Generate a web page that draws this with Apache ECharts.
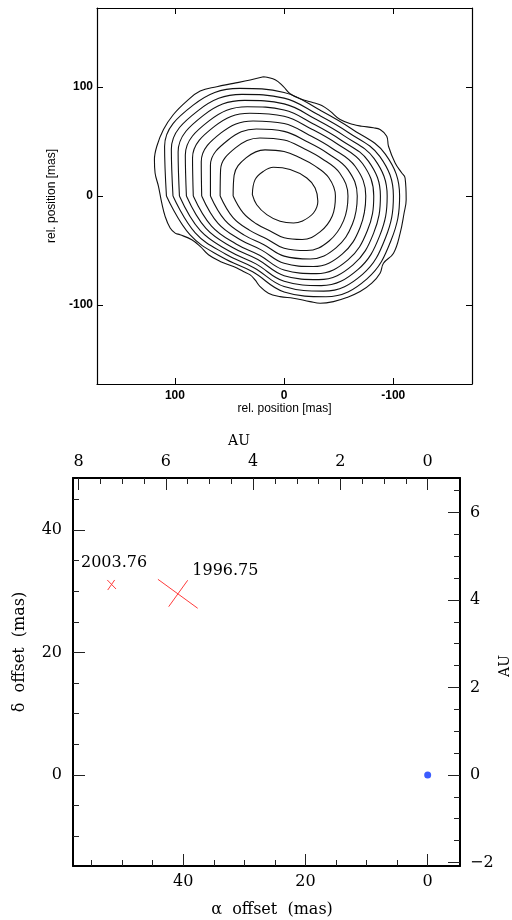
<!DOCTYPE html>
<html><head><meta charset="utf-8">
<script src="https://cdn.jsdelivr.net/npm/echarts@6/dist/echarts.min.js"></script>
<style>html,body{margin:0;padding:0;background:#fff}#c{width:512px;height:920px}</style>
</head><body><div id="c"></div>
<script>
// ---------- top panel: contour levels (rel. position, mas), outermost first ----------
const contour1 = [[18.9,109.3],[8.2,106.6],[0.6,100.2],[-5.5,93.7],[-14.7,89.1],[-26.9,85.5],[-34.5,83.0],[-42.1,77.8],[-51.3,70.1],[-63.5,65.5],[-71.1,64.0],[-81.8,62.5],[-87.9,60.9],[-94.0,54.8],[-95.6,45.6],[-101.7,30.3],[-107.8,21.1],[-110.8,16.5],[-111.8,-3.4],[-109.9,-15.6],[-106.3,-34.0],[-100.2,-52.4],[-91.0,-61.6],[-87.9,-70.8],[-80.3,-79.9],[-69.6,-87.6],[-57.4,-93.1],[-45.2,-96.8],[-33.0,-98.3],[-23.8,-96.8],[-8.5,-93.7],[3.7,-92.2],[14.4,-89.1],[22.0,-83.0],[26.6,-76.9],[31.1,-72.3],[37.3,-69.2],[46.4,-64.6],[58.6,-60.0],[69.3,-53.9],[76.9,-46.2],[84.6,-40.1],[95.3,-35.5],[99.8,-34.0],[104.4,-29.4],[109.0,-18.7],[112.1,-6.4],[115.1,8.9],[118.2,21.1],[118.8,33.4],[116.6,45.6],[110.5,60.9],[101.4,74.7],[89.2,87.0],[76.9,96.2],[61.7,100.2],[46.4,103.2],[31.1,106.3],[18.9,109.3]];
const contour2 = [[107.8,0],[109.5,45.4],[83.3,83.3],[40.9,98.6],[0,94.9],[-32.7,78.8],[-61.7,61.7],[-92.7,38.4],[-105.8,0],[-98.0,-40.6],[-75.9,-75.9],[-38.3,-92.3],[0,-87.9],[28.8,-69.5],[56.4,-56.4],[86.1,-35.7],[107.8,0]];
const contour3 = [[101.8,0],[103.3,42.8],[78.5,78.5],[38.6,93.1],[0,89.7],[-30.9,74.6],[-58.5,58.5],[-87.6,36.3],[-100.1,0],[-92.8,-38.5],[-71.8,-71.8],[-36.2,-87.2],[0,-83.0],[27.3,-65.9],[53.4,-53.4],[81.4,-33.7],[101.8,0]];
const contour4 = [[95.9,0],[97.1,40.3],[73.9,73.9],[36.3,87.6],[0,84.4],[-29.1,70.3],[-55.1,55.1],[-82.5,34.2],[-94.4,0],[-87.6,-36.3],[-67.5,-67.5],[-34.0,-82.1],[0,-78.2],[25.8,-62.2],[50.4,-50.4],[76.7,-31.8],[95.9,0]];
const contour5 = [[89.5,0],[90.5,37.5],[68.8,68.8],[33.9,81.8],[0,78.8],[-27.3,65.8],[-51.6,51.6],[-77.2,32.0],[-88.2,0],[-82.0,-34.0],[-63.1,-63.1],[-31.8,-76.6],[0,-73.0],[24.1,-58.2],[47.2,-47.2],[71.6,-29.7],[89.5,0]];
const contour6 = [[83.2,0],[83.9,34.8],[63.8,63.8],[31.4,75.9],[0,73.1],[-25.4,61.2],[-48.1,48.1],[-71.8,29.8],[-82.1,0],[-76.3,-31.6],[-58.5,-58.5],[-29.5,-71.1],[0,-67.9],[22.5,-54.3],[44.0,-44.0],[66.5,-27.6],[83.2,0]];
const contour7 = [[75.5,0],[75.9,31.4],[57.8,57.8],[28.5,68.8],[0,66.4],[-23.1,55.7],[-43.8,43.8],[-65.2,27.0],[-74.8,0],[-69.6,-28.8],[-53.2,-53.2],[-26.8,-64.6],[0,-61.7],[20.6,-49.6],[40.1,-40.1],[60.5,-25.1],[75.5,0]];
const contour8 = [[67.5,0],[67.5,28.0],[51.3,51.3],[25.5,61.4],[0,59.2],[-20.7,49.9],[-39.4,39.4],[-58.4,24.2],[-67.0,0],[-62.5,-25.9],[-47.5,-47.5],[-23.9,-57.7],[0,-55.1],[18.5,-44.6],[36.1,-36.1],[54.1,-22.4],[67.5,0]];
const contour9 = [[58.6,0],[58.2,24.1],[44.3,44.3],[22.1,53.2],[0,51.3],[-18.0,43.5],[-34.4,34.4],[-50.9,21.1],[-58.5,0],[-54.5,-22.6],[-41.2,-41.2],[-20.7,-50.0],[0,-47.9],[16.2,-39.1],[31.5,-31.5],[47.0,-19.5],[58.6,0]];
const contour10 = [[46.7,0],[45.8,19.0],[34.9,34.9],[17.5,42.3],[0,40.8],[-14.5,35.0],[-27.8,27.8],[-40.8,16.9],[-47.0,0],[-44.1,-18.3],[-32.9,-32.9],[-16.5,-39.8],[0,-38.2],[13.2,-31.8],[25.5,-25.5],[37.5,-15.5],[46.7,0]];
const contour11 = [[29.1,1.2],[26.6,15.0],[19.0,22.6],[9.8,26.3],[-5.5,24.2],[-20.8,16.5],[-28.4,7.3],[-30.9,-4.9],[-26.9,-15.6],[-16.2,-23.2],[-8.6,-24.8],[3.7,-23.2],[15.9,-17.1],[25.1,-8.0],[29.1,1.2]];
const contours = [contour1,contour2,contour3,contour4,contour5,contour6,contour7,contour8,contour9,contour10,contour11];
const relTicks = [-100, 0, 100];
const relRangeX = [-172.1, 171.4];
const relRangeY = [-172.3, 172.3];

// ---------- bottom panel: astrometry (mas) ----------
const auPerMas = 0.14;            // 140 pc
const masRangeX = [-5.29, 58.05];
const masRangeY = [-14.86, 48.49];
const masMajor = [0, 20, 40];
const masMinorX = [5, 10, 15, 25, 30, 35, 45, 50, 55];
const masMinorY = [-10, -5, 5, 10, 15, 25, 30, 35, 45];
const auMajorX = [0, 2, 4, 6, 8];
const auMinorX = [0.5, 1, 1.5, 2.5, 3, 3.5, 4.5, 5, 5.5, 6.5, 7, 7.5];
const auMajorY = [-2, 0, 2, 4, 6];
const auMinorY = [-1.5, -1, -0.5, 0.5, 1, 1.5, 2.5, 3, 3.5, 4.5, 5, 5.5, 6.5];
const epochNames = ['2003.76', '1996.75'];
const epochCenters = [[51.83, 31.02], [40.82, 29.67]];
const err2003a = [[52.44, 31.84], [51.01, 30.37]];
const err2003b = [[52.37, 30.20], [51.23, 31.84]];
const err1996a = [[44.15, 31.95], [37.64, 27.22]];
const err1996b = [[42.39, 27.48], [39.28, 31.79]];
const starPos = [[0, 0]];

const chart = echarts.init(document.getElementById('c'), null, {renderer: 'canvas'});

const sansLbl = {fontFamily: 'Liberation Sans', fontSize: 12, fontWeight: 'bold', color: '#000'};
const serifLbl = {fontFamily: 'DejaVu Serif', fontSize: 16, color: '#000'};

function ax(o) {
  return Object.assign({
    type: 'value', scale: false,
    splitLine: {show: false},
    axisLine: {show: false, onZero: false},
    axisTick: {show: false},
    axisLabel: {show: false}
  }, o);
}
function frameLine(w) { return {show: true, onZero: false, lineStyle: {color: '#000', width: w}}; }
function ticks(vals, len, col) { return {show: true, inside: true, length: len, customValues: vals, lineStyle: {color: col, width: 1}}; }

const xAxis = [
  ax({gridIndex: 0, position: 'bottom', inverse: true, min: relRangeX[0], max: relRangeX[1],
      axisLine: frameLine(1.2), axisTick: ticks(relTicks, 6, '#000'),
      axisLabel: Object.assign({show: true, customValues: relTicks, margin: 6}, sansLbl),
      name: 'rel. position [mas]', nameLocation: 'middle', nameGap: 17,
      nameTextStyle: {fontFamily: 'Liberation Sans', fontSize: 12, color: '#000'}}),
  ax({gridIndex: 0, position: 'top', inverse: true, min: relRangeX[0], max: relRangeX[1],
      axisLine: frameLine(1.2), axisTick: ticks(relTicks, 6, '#000')}),
  ax({gridIndex: 1, position: 'bottom', inverse: true, min: masRangeX[0], max: masRangeX[1],
      axisLine: frameLine(2), axisTick: ticks(masMajor, 12, '#222'),
      axisLabel: Object.assign({show: true, customValues: masMajor, margin: 8}, serifLbl)}),
  ax({gridIndex: 1, position: 'bottom', inverse: true, min: masRangeX[0], max: masRangeX[1],
      axisTick: ticks(masMinorX, 6, '#222')}),
  ax({gridIndex: 1, position: 'top', inverse: true, min: masRangeX[0] * auPerMas, max: masRangeX[1] * auPerMas,
      axisLine: frameLine(2), axisTick: ticks(auMajorX, 12, '#222'),
      axisLabel: Object.assign({show: true, customValues: auMajorX, margin: 8}, serifLbl)}),
  ax({gridIndex: 1, position: 'top', inverse: true, min: masRangeX[0] * auPerMas, max: masRangeX[1] * auPerMas,
      axisTick: ticks(auMinorX, 6, '#222')})
];
const yAxis = [
  ax({gridIndex: 0, position: 'left', min: relRangeY[0], max: relRangeY[1],
      axisLine: frameLine(1.2), axisTick: ticks(relTicks, 6, '#000'),
      axisLabel: Object.assign({show: true, customValues: relTicks, margin: 4}, sansLbl),
      name: 'rel. position [mas]', nameLocation: 'middle', nameGap: 35,
      nameTextStyle: {fontFamily: 'Liberation Sans', fontSize: 12, color: '#000'}}),
  ax({gridIndex: 0, position: 'right', min: relRangeY[0], max: relRangeY[1],
      axisLine: frameLine(1.2), axisTick: ticks(relTicks, 6, '#000')}),
  ax({gridIndex: 1, position: 'left', min: masRangeY[0], max: masRangeY[1],
      axisLine: frameLine(2), axisTick: ticks(masMajor, 12, '#222'),
      axisLabel: Object.assign({show: true, customValues: masMajor, margin: 11}, serifLbl)}),
  ax({gridIndex: 1, position: 'left', min: masRangeY[0], max: masRangeY[1],
      axisTick: ticks(masMinorY, 6, '#222')}),
  ax({gridIndex: 1, position: 'right', min: masRangeY[0] * auPerMas, max: masRangeY[1] * auPerMas,
      axisLine: frameLine(2), axisTick: ticks(auMajorY, 12, '#222'),
      axisLabel: Object.assign({show: true, customValues: auMajorY, margin: 10,
        formatter: v => (v < 0 ? '\u2212' + Math.abs(v) : String(v))}, serifLbl)}),
  ax({gridIndex: 1, position: 'right', min: masRangeY[0] * auPerMas, max: masRangeY[1] * auPerMas,
      axisTick: ticks(auMinorY, 6, '#222')})
];

const series = [];
contours.forEach(c => series.push({
  type: 'line', xAxisIndex: 0, yAxisIndex: 0, data: c, symbol: 'none', smooth: 0.4,
  silent: true, lineStyle: {color: '#111', width: 1.1}
}));
[err2003a, err2003b, err1996a, err1996b].forEach(seg => series.push({
  type: 'line', xAxisIndex: 2, yAxisIndex: 2, data: seg, symbol: 'none', silent: true,
  lineStyle: {color: '#ff3b3b', width: 1}
}));
function epochLabel(i, off) {
  return {
    type: 'scatter', xAxisIndex: 2, yAxisIndex: 2, symbolSize: 1, silent: true,
    itemStyle: {color: 'rgba(0,0,0,0)'},
    data: [{value: epochCenters[i], name: epochNames[i]}],
    label: {show: true, position: 'inside', align: 'left', verticalAlign: 'middle', offset: off,
      formatter: p => p.name, fontFamily: 'DejaVu Serif', fontSize: 16, color: '#000',
      textBorderWidth: 0, opacity: 1}
  };
}
series.push(epochLabel(0, [-30, -22]));
series.push(epochLabel(1, [14, -22]));
series.push({
  type: 'scatter', xAxisIndex: 2, yAxisIndex: 2, symbolSize: 7, data: starPos, silent: true,
  itemStyle: {color: '#0a33ff'}
});

const nameStyle = {fontFamily: 'DejaVu Serif', fontSize: 16, fill: '#000', align: 'center', verticalAlign: 'middle'};
const graphic = [
  {type: 'text', x: 272, y: 910, style: Object.assign({text: '\u03b1  offset  (mas)'}, nameStyle)},
  {type: 'text', x: 20, y: 652, rotation: Math.PI / 2, style: Object.assign({text: '\u03b4  offset  (mas)'}, nameStyle)},
  {type: 'text', x: 239, y: 441, style: Object.assign({text: 'AU'}, nameStyle, {fontSize: 14})},
  {type: 'text', x: 505, y: 666, rotation: Math.PI / 2, style: Object.assign({text: 'AU'}, nameStyle, {fontSize: 14})}
];

chart.setOption({
  animation: false,
  backgroundColor: '#fff',
  grid: [
    {left: 97, top: 8, width: 375, height: 376},
    {left: 73, top: 478, width: 387, height: 388}
  ],
  xAxis, yAxis, series, graphic
});
</script>
</body></html>
